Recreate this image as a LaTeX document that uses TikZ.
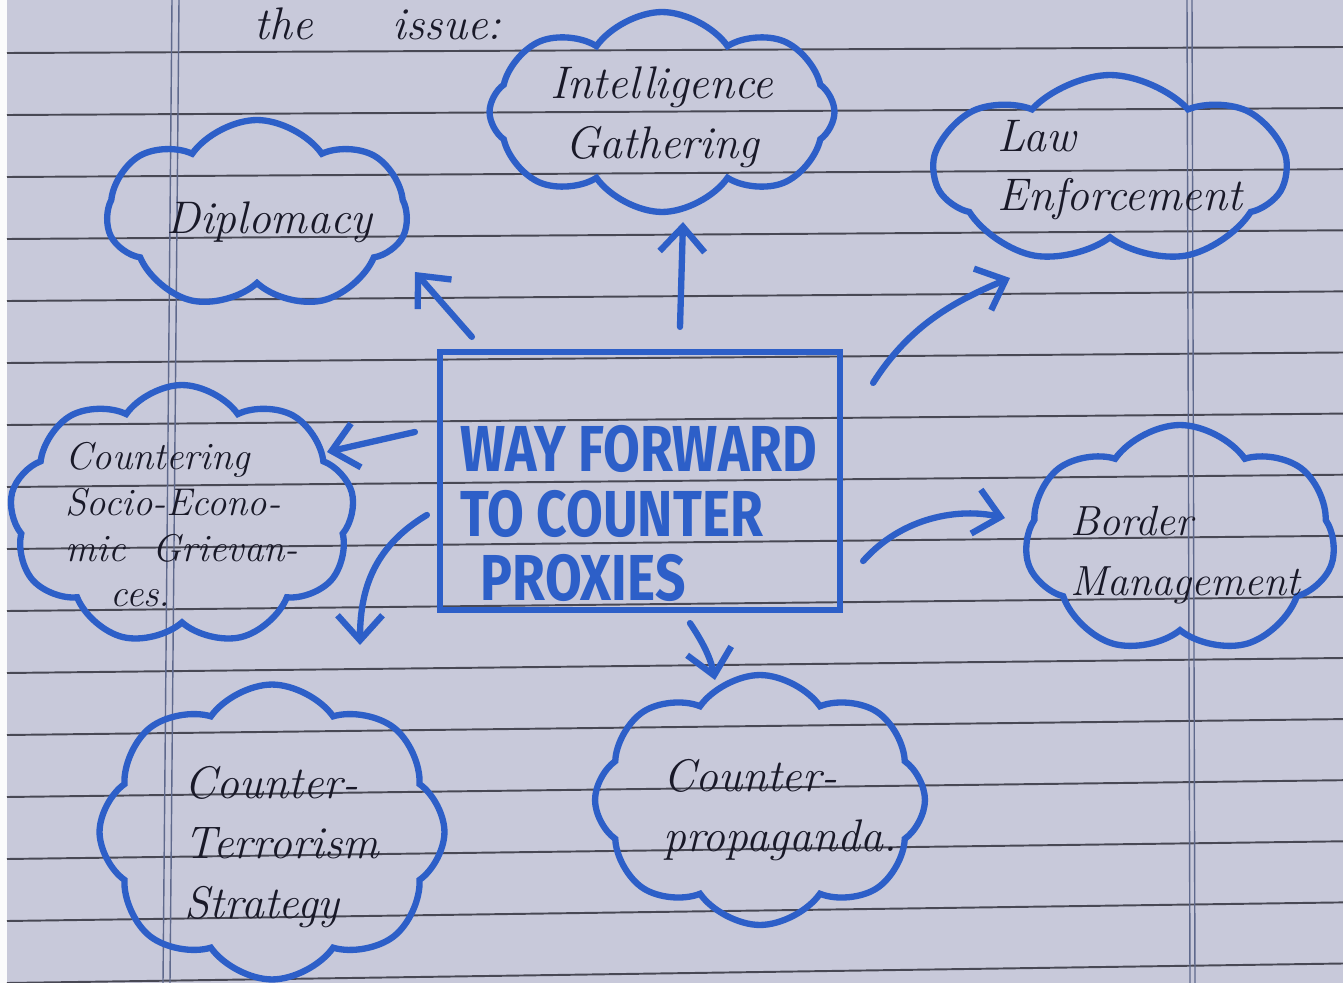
\documentclass[tikz,border=0pt]{standalone}
\usepackage{fontspec}
\newfontfamily\capsfont{Fira Sans}
\usetikzlibrary{shapes.symbols,arrows.meta}
\definecolor{paper}{RGB}{200,201,218}
\definecolor{rulecol}{RGB}{72,72,84}
\definecolor{margincol}{RGB}{95,105,140}
\definecolor{pen}{RGB}{45,95,200}
\definecolor{ink}{RGB}{25,25,40}
\tikzset{
  bubble/.style={cloud, draw=pen, line width=3.6pt, cloud ignores aspect, inner sep=0pt},
  txt/.style={text=ink, font=\fontsize{26}{34}\selectfont\itshape, align=left},
  smalltxt/.style={text=ink, font=\fontsize{22}{26}\selectfont\itshape, align=left},
  arr/.style={draw=pen, line width=3.6pt, line cap=round,
    -{Straight Barb[length=5mm,width=9mm,line width=3.6pt]}},
  ruling/.style={draw=rulecol, line width=1.1pt},
  marginline/.style={draw=margincol, line width=0.8pt}
}
\begin{document}
\begin{tikzpicture}[x=0.02cm, y=-0.02cm]
\useasboundingbox (0,0) rectangle (1343,983);
\fill[paper] (0,0) rectangle (1343,983);
\fill[white!92!paper] (0,0) rectangle (7,983);
% ruled lines
\foreach \n in {0,...,15}{
  \draw[ruling] (7,{53+62*\n}) -- (1343,{47+61.1*\n});
}
% margin lines
\draw[marginline] (172,0) -- (163,983);
\draw[marginline] (179,0) -- (170,983);
\draw[marginline] (1187,0) -- (1190,983);
\draw[marginline] (1192,0) -- (1195,983);

% heading text
\node[txt, anchor=base] (issue) at (378,40) {the\hspace{1.6cm}issue:};

% clouds
\node[bubble, cloud puffs=8, cloud puff arc=110, minimum width=6.9cm, minimum height=4cm,
  label={[txt, align=center, yshift=-0.1cm]center:{Intelligence\\Gathering}}] (intel) at (662,112) {};
\node[bubble, cloud puffs=7, cloud puff arc=95, minimum width=7cm, minimum height=3.8cm,
  label={[txt, xshift=0.2cm]center:{Law\\Enforcement}}] (law) at (1110,170) {};
\node[bubble, cloud puffs=7, cloud puff arc=110, minimum width=6cm, minimum height=3.8cm,
  label={[txt, xshift=0.25cm, yshift=-0.15cm]center:{Diplomacy}}] (dipl) at (257,215) {};
\node[bubble, cloud puffs=9, cloud puff arc=110, minimum width=6.9cm, minimum height=5.2cm,
  label={[smalltxt, yshift=-0.2cm]center:{Countering\\Socio-Econo-\\mic\ \ Grievan-\\\hspace{0.9cm}ces.}}] (ctr) at (182,515) {};
\node[bubble, cloud puffs=7, cloud puff arc=110, minimum width=6.2cm, minimum height=4.6cm,
  label={[txt, font=\fontsize{24}{34}\selectfont\itshape, xshift=0.1cm, yshift=-0.3cm]center:{Border\\Management}}] (border) at (1180,540) {};
\node[bubble, cloud puffs=8, cloud puff arc=110, minimum width=6.9cm, minimum height=5.9cm,
  label={[txt, xshift=0.2cm, yshift=-0.3cm]center:{Counter-\\Terrorism\\Strategy}}] (ct) at (272,832) {};
\node[bubble, cloud puffs=8, cloud puff arc=110, minimum width=6.6cm, minimum height=5cm,
  label={[txt, xshift=0.4cm, yshift=-0.2cm]center:{Counter-\\propaganda.}}] (cp) at (760,800) {};

% central box
\node[draw=pen, line width=3.6pt, minimum width=8cm, minimum height=5.16cm, inner sep=0pt] (center) at (640,481) {};
\node[anchor=north west, text=pen, inner sep=0pt,
  font=\capsfont\bfseries\fontsize{37}{35}\selectfont] (title) at (460,425)
  {\scalebox{0.82}[1]{\begin{tabular}{@{}l@{}}WAY FORWARD\\TO COUNTER\\\hspace{0.5cm}PROXIES\end{tabular}}};

% arrows
\draw[arr] ([shift={(35,-12)}]center.north west) -- ([shift={(158,57)}]dipl.center);
\draw[arr] ([shift={(40,-22)}]center.north) -- ([shift={(21,110)}]intel.center);
\draw[arr] ([shift={(30,34)}]center.north east) .. controls +(35,-55) and +(-60,25) .. ([shift={(-100,108)}]law.center);
\draw[arr] ([shift={(-22,-49)}]center.west) -- ([shift={(145,-63)}]ctr.center);
\draw[arr] ([shift={(-10,34)}]center.west) .. controls +(-50,30) and +(0,-60) .. ([shift={(88,-187)}]ct.center);
\draw[arr] ([shift={(50,10)}]center.south) .. controls +(10,15) and +(-5,-25) .. ([shift={(-45,-120)}]cp.center);
\draw[arr] ([shift={(20,80)}]center.east) .. controls +(40,-45) and +(-45,-10) .. ([shift={(-175,-22)}]border.center);
\end{tikzpicture}
\end{document}
